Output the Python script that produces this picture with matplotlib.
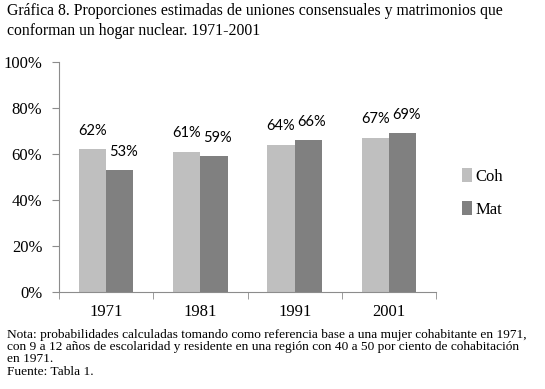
import numpy as np
import matplotlib
matplotlib.use("Agg")
from matplotlib import pyplot as plt

# Data
years = ["1971", "1981", "1991", "2001"]
coh = [62, 61, 64, 67]
mat = [53, 59, 66, 69]
series_names = ["Coh", "Mat"]

title = ("Gráfica 8. Proporciones estimadas de uniones consensuales y matrimonios que\n"
         "conforman un hogar nuclear. 1971-2001")
note = ("Nota: probabilidades calculadas tomando como referencia base a una mujer cohabitante en 1971,\n"
        "con 9 a 12 años de escolaridad y residente en una región con 40 a 50 por ciento de cohabitación\n"
        "en 1971.\n"
        "Fuente: Tabla 1.")

plt.rcParams['font.family'] = ['Liberation Serif', 'DejaVu Serif']

fig = plt.figure(figsize=(5.45, 3.89), dpi=100)
W, H = 545, 389
ax = fig.add_axes([59 / W, 1 - 292 / H, (436 - 59) / W, (292 - 62) / H])

x = np.arange(len(years))
bw = 0.29
axis_col = "#8c8c8c"
ax.bar(x - bw / 2, coh, bw, color="#bfbfbf", label=series_names[0])
ax.bar(x + bw / 2, mat, bw, color="#808080", label=series_names[1])

for i in range(len(years)):
    ax.text(x[i] - bw / 2, coh[i] + 5, f"{coh[i]}%", ha="center", va="bottom",
            fontsize=10.5, family="Lato")
    ax.text(x[i] + bw / 2 + 0.04, mat[i] + 5, f"{mat[i]}%", ha="center", va="bottom",
            fontsize=10.5, family="Lato")

ax.set_xlim(-0.5, len(years) - 0.5)
ax.set_ylim(0, 100)
ax.set_yticks(np.arange(0, 101, 20))
ax.set_yticklabels([f"{v}%" for v in range(0, 101, 20)], fontsize=12)
ax.set_xticks(x)
ax.set_xticklabels(years, fontsize=12)
ax.set_xticks(np.arange(-0.5, len(years), 1), minor=True)
ax.tick_params(axis="x", which="major", length=0, pad=9)
ax.tick_params(axis="x", which="minor", length=5, color=axis_col)
ax.tick_params(axis="y", length=5, color=axis_col, pad=7)

for s in ["top", "right"]:
    ax.spines[s].set_visible(False)
for s in ["left", "bottom"]:
    ax.spines[s].set_color(axis_col)

ax.legend(loc="center left", bbox_to_anchor=(1.03, 0.43), frameon=False,
          fontsize=12, handlelength=0.6, handleheight=0.9, handletextpad=0.2,
          labelspacing=1.0)

fig.text(7 / W, 1 - 3 / H, title, ha="left", va="top", fontsize=11.3, linespacing=1.3)
fig.text(7 / W, 1 - 329 / H, note, ha="left", va="top", fontsize=9.6, linespacing=1.02)

fig.savefig("out.png", dpi=100)
